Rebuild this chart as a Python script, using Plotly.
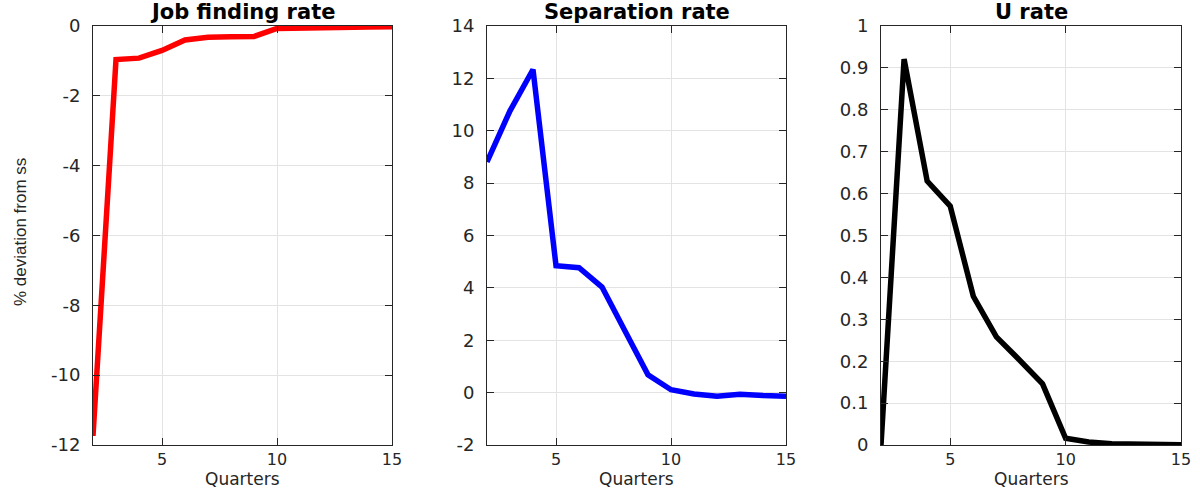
import plotly.graph_objects as go

quarters = list(range(2, 16))

job_finding = [-11.74, -0.96, -0.92, -0.70, -0.40, -0.32, -0.31, -0.30,
               -0.07, -0.05, -0.04, -0.03, -0.03, -0.02]
separation = [8.81, 10.76, 12.34, 4.85, 4.77, 4.03, 2.35, 0.68,
              0.11, -0.05, -0.14, -0.06, -0.11, -0.14]
u_rate = [0.0, 0.921, 0.630, 0.570, 0.355, 0.258, 0.203, 0.146,
          0.016, 0.007, 0.003, 0.002, 0.001, 0.0005]

titles = ["Job finding rate", "Separation rate", "U rate"]
series = [job_finding, separation, u_rate]
colors = ["#ff0000", "#0000ff", "#000000"]

x_ticks = [5, 10, 15]
jf_ticks = [0, -2, -4, -6, -8, -10, -12]
sep_ticks = [-2, 0, 2, 4, 6, 8, 10, 12, 14]
u_ticks = [0, 0.1, 0.2, 0.3, 0.4, 0.5, 0.6, 0.7, 0.8, 0.9, 1]
u_labels = ["0", "0.1", "0.2", "0.3", "0.4", "0.5", "0.6", "0.7", "0.8", "0.9", "1"]

y_ranges = [[-12, 0], [-2, 14], [0, 1]]
y_tickvals = [jf_ticks, sep_ticks, u_ticks]
y_ticktext = [[str(v) for v in jf_ticks], [str(v) for v in sep_ticks], u_labels]

W, H = 1200, 490
x_domains = [[93 / W, 392 / W], [487 / W, 786 / W], [881 / W, 1181 / W]]
y_domain = [1 - 445 / H, 1 - 26 / H]

axis_col = "#262626"
tick_font = "DejaVu Sans, Arial, sans-serif"
label_font = "Liberation Sans, Arial, sans-serif"

fig = go.Figure()
layout = dict(
    width=W, height=H,
    margin=dict(l=0, r=0, t=0, b=0, autoexpand=False),
    paper_bgcolor="white", plot_bgcolor="white",
    showlegend=False,
    font=dict(family=tick_font, size=16, color=axis_col),
)

annotations = []
for i in range(3):
    sfx = "" if i == 0 else str(i + 1)
    fig.add_trace(go.Scatter(
        x=quarters, y=series[i], mode="lines",
        line=dict(color=colors[i], width=5.5),
        xaxis="x" + sfx, yaxis="y" + sfx, hoverinfo="skip",
    ))
    layout["xaxis" + sfx] = dict(
        domain=x_domains[i], range=[2, 15], anchor="y" + sfx, automargin=False,
        tickvals=x_ticks, ticks="inside", ticklen=7, tickcolor=axis_col,
        showline=True, linecolor=axis_col, linewidth=1, mirror="ticks",
        showgrid=True, gridcolor="#e3e3e3", gridwidth=1, zeroline=False,
        tickfont=dict(family=tick_font, size=16, color=axis_col),
    )
    layout["yaxis" + sfx] = dict(
        domain=y_domain, range=y_ranges[i], anchor="x" + sfx, automargin=False,
        tickvals=y_tickvals[i], ticktext=y_ticktext[i],
        ticks="inside", ticklen=7, tickcolor=axis_col,
        showline=True, linecolor=axis_col, linewidth=1, mirror="ticks",
        showgrid=True, gridcolor="#e3e3e3", gridwidth=1, zeroline=False,
        tickfont=dict(family=tick_font, size=18, color=axis_col),
        ticklabelstandoff=8,
    )
    cx = sum(x_domains[i]) / 2
    annotations.append(dict(
        text="<b>" + titles[i] + "</b>", xref="paper", yref="paper",
        x=cx, y=y_domain[1], xanchor="center", yanchor="bottom",
        yshift=0, showarrow=False,
        font=dict(family=tick_font, size=21, color="#000000"),
    ))
    annotations.append(dict(
        text="Quarters", xref="paper", yref="paper",
        x=cx, y=0, xanchor="center", yanchor="bottom", borderpad=0,
        showarrow=False, font=dict(family=tick_font, size=17, color=axis_col),
    ))

annotations.append(dict(
    text="% deviation from ss", xref="paper", yref="paper",
    x=20 / W, y=1 - 232 / H, xanchor="center", yanchor="middle",
    textangle=-90, showarrow=False,
    font=dict(family=label_font, size=17, color=axis_col),
))

layout["annotations"] = annotations
fig.update_layout(**layout)
fig.write_html("out.html")
